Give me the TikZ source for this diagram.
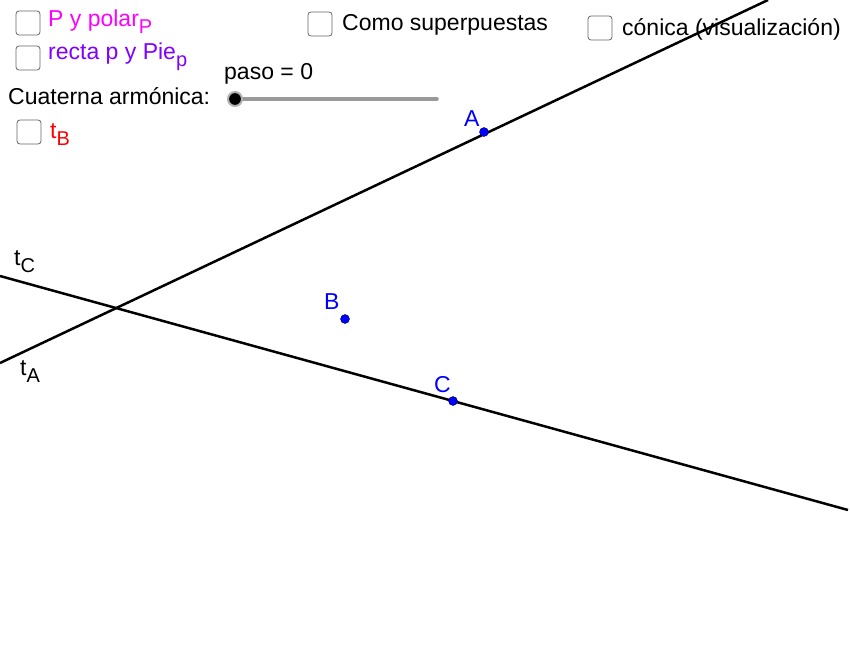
\documentclass[tikz,border=0pt]{standalone}
\usepackage{fontspec}
\setmainfont{Liberation Sans}
\definecolor{ptblue}{RGB}{0,0,255}
\definecolor{mag}{RGB}{255,0,255}
\definecolor{purp}{RGB}{127,0,255}
\newcommand{\sbx}[1]{\raisebox{-0.3em}{\fontsize{20}{22}\selectfont #1}}
\begin{document}
\begin{tikzpicture}[x=1pt,y=-1pt,
  cb/.style={draw=gray!80!black,fill=white,rounded corners=3pt,minimum size=24pt,inner sep=0pt,line width=0.8pt},
  lbl/.style={anchor=west,inner sep=0pt,font=\fontsize{23}{26}\selectfont},
  pt/.style={circle,fill=ptblue,draw=black!70!blue,inner sep=0pt,minimum size=9pt},
  ln/.style={line width=2.5pt}]
\useasboundingbox[fill=white] (0,0) rectangle (850,650);
\coordinate (a1) at (0,363); \coordinate (a2) at (768,0);
\coordinate (c1) at (0,276); \coordinate (c2) at (848,510);
\draw[ln] (a1) -- (a2);
\draw[ln] (c1) -- (c2);
\node[pt] (A) at (484,132) {};
\node[pt] (B) at (345,319) {};
\node[pt] (C) at (453,401) {};
\node[lbl,text=ptblue] (la) at (464,119) {A};
\node[lbl,text=ptblue] (lb) at (324,302) {B};
\node[lbl,text=ptblue] (lc) at (434,385) {C};
\node[lbl] (ltc) at (14,262) {t\sbx{C}};
\node[lbl] (lta) at (20,372) {t\sbx{A}};
\node[cb] (k1) at (28,23) {};
\node[cb] (k2) at (28,58) {};
\node[cb] (k3) at (320,24) {};
\node[cb] (k4) at (600,28) {};
\node[cb] (k5) at (29,132) {};
\node[lbl,text=mag] (t1) at (48,22) {P y polar\sbx{P}};
\node[lbl,text=purp] (t2) at (48,57) {recta p y Pie\sbx{p}};
\node[lbl] (t3) at (342,25) {Como superpuestas};
\node[lbl] (t4) at (622,29) {cónica (visualización)};
\node[lbl] (t5) at (8,96) {Cuaterna armónica:};
\node[lbl] (t6) at (224,74) {paso = 0};
\node[lbl,text=red] (t7) at (50,135) {t\sbx{B}};
\coordinate (s1) at (235,99); \coordinate (s2) at (437,99);
\draw[line width=3.5pt,gray!80,line cap=round] (s1) -- (s2);
\node[circle,fill=black,draw=gray!60,line width=2pt,minimum size=14pt,inner sep=0pt] (knob) at (s1) {};
\end{tikzpicture}
\end{document}
